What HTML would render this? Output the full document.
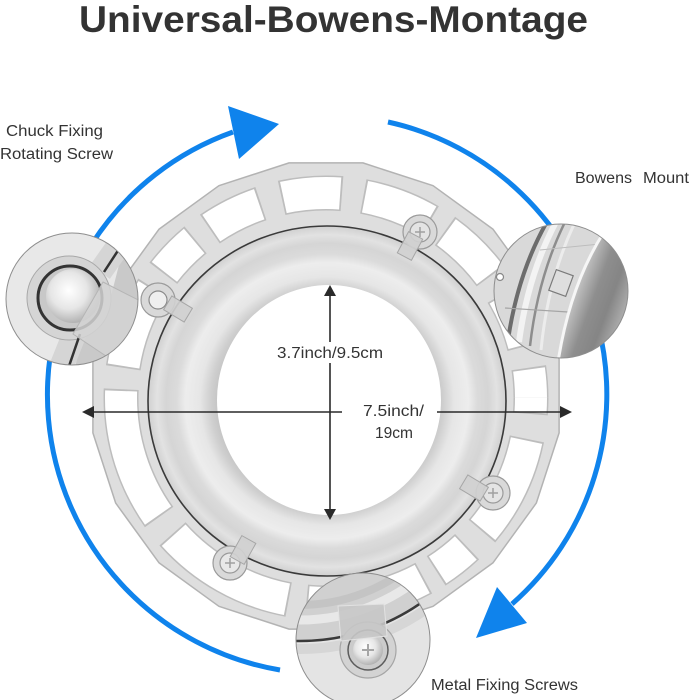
<!DOCTYPE html>
<html><head><meta charset="utf-8"><style>
html,body{margin:0;padding:0;background:#fff;}
svg{display:block;}
text{font-family:"Liberation Sans",Arial,sans-serif;fill:#333;}
</style></head><body>
<svg width="691" height="700" viewBox="0 0 691 700" xmlns="http://www.w3.org/2000/svg">
<defs>
 <radialGradient id="ring" cx="0.5" cy="0.5" r="0.5">
  <stop offset="0.60" stop-color="#c2c2c2"/>
  <stop offset="0.65" stop-color="#cfcfcf"/>
  <stop offset="0.71" stop-color="#e6e6e6"/>
  <stop offset="0.79" stop-color="#ededed"/>
  <stop offset="0.84" stop-color="#dbdbdb"/>
  <stop offset="0.90" stop-color="#d5d5d5"/>
  <stop offset="0.95" stop-color="#e2e2e2"/>
  <stop offset="1" stop-color="#d0d0d0"/>
 </radialGradient>
 <radialGradient id="gS" cx="0.42" cy="0.4" r="0.62">
  <stop offset="0" stop-color="#ffffff"/>
  <stop offset="0.55" stop-color="#e6e6e6"/>
  <stop offset="1" stop-color="#b0b0b0"/>
 </radialGradient>
 <linearGradient id="gD" gradientUnits="userSpaceOnUse" x1="568" y1="282" x2="630" y2="305">
  <stop offset="0" stop-color="#f2f2f2"/>
  <stop offset="0.15" stop-color="#c4c4c4"/>
  <stop offset="0.45" stop-color="#8e8e8e"/>
  <stop offset="0.7" stop-color="#858585"/>
  <stop offset="1" stop-color="#b2b2b2"/>
 </linearGradient>
 <clipPath id="cL"><circle cx="72" cy="299" r="66"/></clipPath>
 <clipPath id="cR"><circle cx="561" cy="291" r="67"/></clipPath>
 <clipPath id="cB"><circle cx="363" cy="640" r="67"/></clipPath>
</defs>

<!-- Title -->
<text x="79" y="32" font-size="37" font-weight="bold" textLength="509" lengthAdjust="spacingAndGlyphs">Universal-Bowens-Montage</text>

<!-- Blue rotation arcs -->
<path d="M280 670 A279 279 0 0 1 233 132" fill="none" stroke="#0f83ec" stroke-width="5"/>
<polygon points="228,106 279,124 239,159" fill="#0f83ec"/>
<path d="M388 122 A279 279 0 0 1 512 604" fill="none" stroke="#0f83ec" stroke-width="5"/>
<polygon points="476,638 497,587 527,623" fill="#0f83ec"/>

<!-- Outer plate -->
<polygon points="559.1,432.9 536.3,503.1 492.9,562.9 433.1,606.3 362.9,629.1 289.1,629.1 218.9,606.3 159.1,562.9 115.7,503.1 92.9,432.9 92.9,359.1 115.7,288.9 159.1,229.1 218.9,185.7 289.1,162.9 362.9,162.9 433.1,185.7 492.9,229.1 536.3,288.9 559.1,359.1" fill="#dedede" stroke="#b3b3b3" stroke-width="1.5" stroke-linejoin="round"/>
<!-- window outlines -->
<circle cx="326" cy="398" r="205" pathLength="360" fill="none" stroke="#bdbdbd" stroke-width="35"
 stroke-dasharray="4.5 7 29 6 11 4 12 6 16 5 38 6 38 6 24 5 13 5 16 6 17 6 20 5 18 6 16 6 8.5"/>
<!-- windows -->
<circle cx="326" cy="398" r="205" pathLength="360" fill="none" stroke="#ffffff" stroke-width="32"
 stroke-dasharray="4 8 28 7 10 5 11 7 15 6 37 7 37 7 23 6 12 6 15 7 16 7 19 6 17 7 15 7 8"/>

<!-- Inner ring -->
<ellipse cx="327" cy="401" rx="179" ry="175" fill="url(#ring)" stroke="#3a3a3a" stroke-width="1.6"/>
<ellipse cx="329" cy="400" rx="112" ry="115" fill="#ffffff"/>

<!-- screw bumps -->
<g stroke="#9a9a9a" stroke-width="1.2">
 <circle cx="158" cy="300" r="17" fill="#d9d9d9"/>
 <circle cx="158" cy="300" r="9" fill="#efefef" stroke="#8a8a8a"/>
 <circle cx="420" cy="232" r="17" fill="#d9d9d9"/>
 <circle cx="420" cy="232" r="10" fill="#e4e4e4"/>
 <circle cx="493" cy="493" r="17" fill="#d9d9d9"/>
 <circle cx="493" cy="493" r="10" fill="#e4e4e4"/>
 <circle cx="230" cy="563" r="17" fill="#d9d9d9"/>
 <circle cx="230" cy="563" r="10" fill="#e8e8e8"/>
</g>
<g stroke="#a0a0a0" stroke-width="1.5">
 <path d="M415 232h10M420 227v10"/>
 <path d="M488 493h10M493 488v10"/>
 <path d="M225 563h10M230 558v10"/>
</g>
<g fill="#d0d0d0" stroke="#a6a6a6" stroke-width="1" fill-opacity="0.92">
 <rect x="-12" y="-8" width="24" height="16" transform="translate(178,309) rotate(211)"/>
 <rect x="-12" y="-8" width="24" height="16" transform="translate(410,246) rotate(298)"/>
 <rect x="-12" y="-8" width="24" height="16" transform="translate(474,488) rotate(31)"/>
 <rect x="-12" y="-8" width="24" height="16" transform="translate(243,550) rotate(119)"/>
</g>

<!-- dimension arrows -->
<g stroke="#2a2a2a" stroke-width="1.6">
 <line x1="90" y1="412" x2="342" y2="412"/>
 <line x1="437" y1="412" x2="564" y2="412"/>
 <line x1="330" y1="293" x2="330" y2="342"/>
 <line x1="330" y1="363" x2="330" y2="512"/>
</g>
<g fill="#2a2a2a">
 <polygon points="82,412 94,406 94,418"/>
 <polygon points="572,412 560,406 560,418"/>
 <polygon points="330,285 324,296 336,296"/>
 <polygon points="330,520 324,509 336,509"/>
</g>
<text x="277" y="358" font-size="15.5" textLength="106" lengthAdjust="spacingAndGlyphs">3.7inch/9.5cm</text>
<text x="363" y="416" font-size="15.5" textLength="61" lengthAdjust="spacingAndGlyphs">7.5inch/</text>
<text x="375" y="438" font-size="15.5" textLength="38" lengthAdjust="spacingAndGlyphs">19cm</text>

<!-- Left magnifier -->
<circle cx="72" cy="299" r="66" fill="#e8e8e8"/>
<g clip-path="url(#cL)">
 <polygon points="130,222 150,222 150,380 72,380 82,338 110,300" fill="#c9c9c9"/>
 <path d="M140 215 L100 272" stroke="#d5d5d5" stroke-width="24"/>
 <path d="M76 330 L56 380" stroke="#d5d5d5" stroke-width="24"/>
 <circle cx="69" cy="298" r="42" fill="#d5d5d5" stroke="#a8a8a8" stroke-width="1"/>
 <circle cx="70" cy="298" r="32" fill="#c8c8c8" stroke="#333" stroke-width="3"/>
 <path d="M134 226 L104 272" stroke="#333" stroke-width="2.5"/>
 <path d="M80 334 L67 372" stroke="#333" stroke-width="2.5"/>
 <circle cx="73" cy="296" r="27" fill="url(#gS)"/>
 <polygon points="103,282 150,306 118,364 73,334" fill="#d4d4d4" fill-opacity="0.85" stroke="#b5b5b5"/>
</g>
<circle cx="72" cy="299" r="66" fill="none" stroke="#8e8e8e" stroke-width="1"/>

<!-- Right magnifier -->
<circle cx="561" cy="291" r="67" fill="#d9d9d9"/>
<g clip-path="url(#cR)">
 <path d="M548 220 Q518 272 508 340" fill="none" stroke="#6c6c6c" stroke-width="4"/>
 <path d="M557 220 Q528 274 519 342" fill="none" stroke="#f3f3f3" stroke-width="6"/>
 <path d="M566 220 Q538 276 530 346" fill="none" stroke="#8d8d8d" stroke-width="2.5"/>
 <path d="M576 220 Q548 278 541 350" fill="none" stroke="#ececec" stroke-width="3"/>
 <path d="M505 308 L568 312" stroke="#a5a5a5" stroke-width="1.2"/>
 <path d="M540 250 L600 244" stroke="#bdbdbd" stroke-width="1"/>
 <rect x="-9" y="-11" width="18" height="22" transform="translate(561,283) rotate(20)" fill="#dedede" stroke="#7a7a7a" stroke-width="1.2"/>
 <path d="M604 232 Q570 285 558 362 L640 362 L640 232 Z" fill="url(#gD)"/>
 <path d="M604 232 Q570 285 558 362" fill="none" stroke="#f6f6f6" stroke-width="3"/>
</g>
<circle cx="561" cy="291" r="67" fill="none" stroke="#8e8e8e" stroke-width="1"/>
<circle cx="500" cy="277" r="3.5" fill="#fff" stroke="#888" stroke-width="1.2"/>

<!-- Bottom magnifier -->
<circle cx="363" cy="640" r="67" fill="#e4e4e4"/>
<g clip-path="url(#cB)">
 <circle cx="300" cy="430" r="211" fill="#d0d0d0"/>
 <circle cx="300" cy="430" r="190" fill="none" stroke="#e8e8e8" stroke-width="9"/>
 <circle cx="300" cy="430" r="175" fill="none" stroke="#c4c4c4" stroke-width="8"/>
 <circle cx="300" cy="430" r="219" fill="none" stroke="#d6d6d6" stroke-width="10"/>
 <circle cx="300" cy="430" r="211" fill="none" stroke="#3a3a3a" stroke-width="2.5"/>
 <circle cx="368" cy="650" r="28" fill="#d3d3d3" stroke="#a5a5a5" stroke-width="1.2"/>
 <circle cx="368" cy="650" r="20" fill="#cbcbcb" stroke="#5c5c5c" stroke-width="1.5"/>
 <circle cx="368" cy="650" r="15" fill="url(#gS)"/>
 <path d="M362 650h12M368 644v12" stroke="#a6a6a6" stroke-width="2"/>
 <polygon points="338,606 384,604 387,636 341,641" fill="#c6c6c6" fill-opacity="0.9" stroke="#e2e2e2"/>
</g>
<circle cx="363" cy="640" r="67" fill="none" stroke="#8e8e8e" stroke-width="1"/>

<!-- Labels -->
<text x="6" y="136" font-size="15.5" textLength="97" lengthAdjust="spacingAndGlyphs">Chuck Fixing</text>
<text x="0" y="159" font-size="15.5" textLength="113" lengthAdjust="spacingAndGlyphs">Rotating Screw</text>
<text x="575" y="183" font-size="15.5" textLength="57" lengthAdjust="spacingAndGlyphs">Bowens</text>
<text x="643" y="183" font-size="15.5" textLength="46" lengthAdjust="spacingAndGlyphs">Mount</text>
<text x="431" y="690" font-size="15.5" textLength="147" lengthAdjust="spacingAndGlyphs">Metal Fixing Screws</text>
</svg>
</body></html>
